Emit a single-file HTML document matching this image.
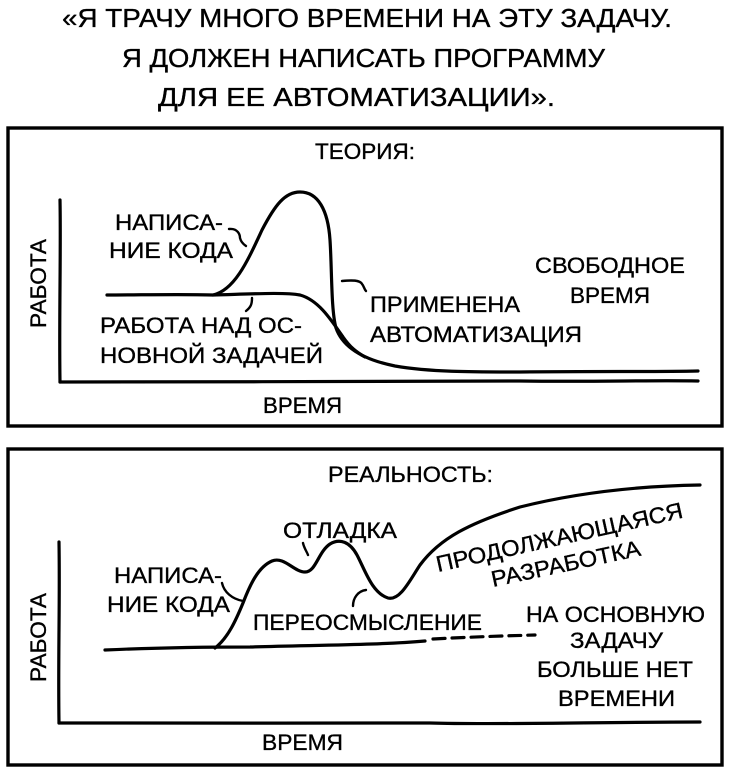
<!DOCTYPE html>
<html>
<head>
<meta charset="utf-8">
<style>
  html, body { margin: 0; padding: 0; background: #fff; }
  svg { display: block; }
  text { font-family: "Liberation Sans", "DejaVu Sans", sans-serif; fill: #000; stroke: #000; stroke-width: 0.35; }
  .t { font-size: 26px; }
  .l { font-size: 22.5px; }
  .c { fill: none; stroke: #000; stroke-width: 3.2; stroke-linecap: round; stroke-linejoin: round; }
  .k { fill: none; stroke: #000; stroke-width: 2.4; stroke-linecap: round; }
</style>
</head>
<body>
<svg width="731" height="772" viewBox="0 0 731 772" xmlns="http://www.w3.org/2000/svg">
  <rect x="0" y="0" width="731" height="772" fill="#fff"/>

  <!-- Title -->
  <text class="t" x="62" y="27" textLength="610" lengthAdjust="spacingAndGlyphs">«Я ТРАЧУ МНОГО ВРЕМЕНИ НА ЭТУ ЗАДАЧУ.</text>
  <text class="t" x="122" y="67" textLength="483" lengthAdjust="spacingAndGlyphs">Я ДОЛЖЕН НАПИСАТЬ ПРОГРАММУ</text>
  <text class="t" x="158" y="106" textLength="397" lengthAdjust="spacingAndGlyphs">ДЛЯ ЕЕ АВТОМАТИЗАЦИИ».</text>

  <!-- Top panel frame -->
  <rect x="8" y="128" width="714" height="298" fill="none" stroke="#000" stroke-width="3.4"/>

  <!-- Top panel axes -->
  <path class="c" d="M 60 200 C 61 250, 59 320, 60 382"/>
  <path class="c" d="M 60 382 C 200 383, 400 380, 520 381 C 600 382, 650 380, 698 381"/>

  <!-- Top panel curves -->
  <path class="c" d="M 107 295 C 140 295, 180 294, 213 295 C 250 294, 285 292, 300 295 C 318 300, 330 318, 343 337 C 350 347, 356 352, 365 357"/>
  <path class="c" d="M 213 295 C 235 290, 248 260, 262 230 C 275 205, 285 192, 300 192 C 318 192, 328 210, 330 240 C 332 270, 331 310, 336 328 C 343 348, 365 360, 395 366 C 430 372, 470 372, 520 372 C 600 371, 650 372, 698 371"/>

  <!-- Top panel ticks -->
  <path class="k" d="M 229 229 C 238 228, 240 235, 240 238 C 241 242, 243 244, 246 246"/>
  <path class="k" d="M 252 298 C 252 304, 251 307, 246 311"/>
  <path class="k" d="M 342 281 C 352 280, 360 280, 362 284 C 364 286, 364 289, 366 291"/>

  <!-- Top panel labels -->
  <text class="l" x="315" y="159" textLength="100" lengthAdjust="spacingAndGlyphs">ТЕОРИЯ:</text>
  <text class="l" x="115" y="230" textLength="108" lengthAdjust="spacingAndGlyphs">НАПИСА-</text>
  <text class="l" x="109" y="258" textLength="124" lengthAdjust="spacingAndGlyphs">НИЕ КОДА</text>
  <text class="l" x="100" y="333" textLength="202" lengthAdjust="spacingAndGlyphs">РАБОТА НАД ОС-</text>
  <text class="l" x="100" y="363" textLength="223" lengthAdjust="spacingAndGlyphs">НОВНОЙ ЗАДАЧЕЙ</text>
  <text class="l" x="370" y="312" textLength="150" lengthAdjust="spacingAndGlyphs">ПРИМЕНЕНА</text>
  <text class="l" x="370" y="342" textLength="212" lengthAdjust="spacingAndGlyphs">АВТОМАТИЗАЦИЯ</text>
  <text class="l" x="535" y="273" textLength="150" lengthAdjust="spacingAndGlyphs">СВОБОДНОЕ</text>
  <text class="l" x="570" y="303" textLength="80" lengthAdjust="spacingAndGlyphs">ВРЕМЯ</text>
  <text class="l" x="263" y="413" textLength="79" lengthAdjust="spacingAndGlyphs">ВРЕМЯ</text>
  <text class="l" transform="translate(46,328) rotate(-90)" x="0" y="0" textLength="89" lengthAdjust="spacingAndGlyphs">РАБОТА</text>

  <!-- Bottom panel frame -->
  <rect x="8" y="449" width="714" height="316" fill="none" stroke="#000" stroke-width="3.4"/>

  <!-- Bottom panel axes -->
  <path class="c" d="M 59 542 C 60 600, 58 660, 59 723"/>
  <path class="c" d="M 59 723 C 200 722, 300 724, 430 723 C 500 725, 600 722, 700 722"/>

  <!-- Bottom panel baseline + dashed -->
  <path class="c" d="M 105 650 C 150 648, 200 647, 250 647 C 320 645, 380 645, 425 641"/>
  <path class="c" d="M 433 639 C 470 637, 500 636, 535 635" stroke-dasharray="12 7"/>

  <!-- Bottom panel main curve -->
  <path class="c" d="M 215 648 C 228 638, 236 620, 243 603 C 250 585, 258 567, 272 561 C 284 556, 294 572, 305 572 C 316 572, 318 552, 330 544 C 340 538, 350 542, 357 555 C 365 570, 372 593, 388 598 C 400 601, 410 580, 420 565 C 440 538, 470 523, 520 507 C 580 492, 640 486, 700 485"/>

  <!-- Bottom panel ticks -->
  <path class="k" d="M 222 583 C 224 592, 232 599, 243 601"/>
  <path class="k" d="M 303 543 C 304 548, 307 552, 308 555"/>
  <path class="k" d="M 353 606 C 353 598, 358 591, 366 590"/>

  <!-- Bottom panel labels -->
  <text class="l" x="328" y="482" textLength="165" lengthAdjust="spacingAndGlyphs">РЕАЛЬНОСТЬ:</text>
  <text class="l" x="283" y="538" textLength="114" lengthAdjust="spacingAndGlyphs">ОТЛАДКА</text>
  <text class="l" x="114" y="583" textLength="108" lengthAdjust="spacingAndGlyphs">НАПИСА-</text>
  <text class="l" x="107" y="612" textLength="123" lengthAdjust="spacingAndGlyphs">НИЕ КОДА</text>
  <text class="l" x="253" y="630" textLength="229" lengthAdjust="spacingAndGlyphs">ПЕРЕОСМЫСЛЕНИЕ</text>
  <text class="l" transform="translate(438,572) rotate(-12.5)" x="0" y="0" textLength="252" lengthAdjust="spacingAndGlyphs">ПРОДОЛЖАЮЩАЯСЯ</text>
  <text class="l" transform="translate(493,587) rotate(-12)" x="0" y="0" textLength="152" lengthAdjust="spacingAndGlyphs">РАЗРАБОТКА</text>
  <text class="l" x="526" y="622" textLength="179" lengthAdjust="spacingAndGlyphs">НА ОСНОВНУЮ</text>
  <text class="l" x="570" y="648" textLength="93" lengthAdjust="spacingAndGlyphs">ЗАДАЧУ</text>
  <text class="l" x="537" y="677" textLength="156" lengthAdjust="spacingAndGlyphs">БОЛЬШЕ НЕТ</text>
  <text class="l" x="558" y="706" textLength="117" lengthAdjust="spacingAndGlyphs">ВРЕМЕНИ</text>
  <text class="l" x="262" y="750" textLength="81" lengthAdjust="spacingAndGlyphs">ВРЕМЯ</text>
  <text class="l" transform="translate(46,682) rotate(-90)" x="0" y="0" textLength="89" lengthAdjust="spacingAndGlyphs">РАБОТА</text>
</svg>
</body>
</html>
